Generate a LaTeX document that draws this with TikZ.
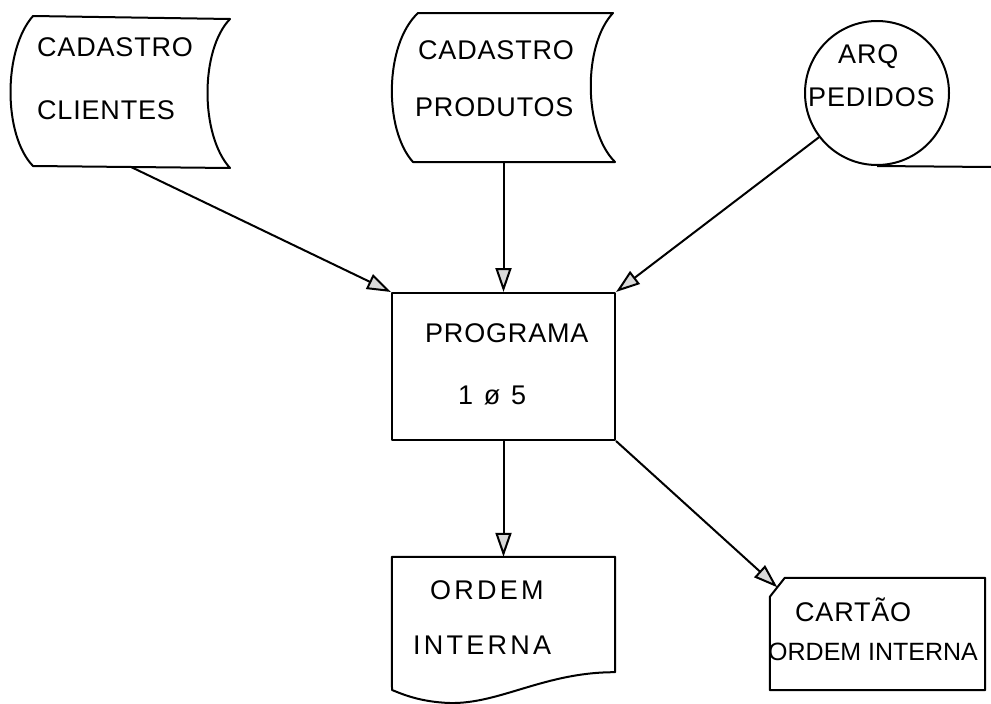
\documentclass[tikz,border=0pt]{standalone}
\usepackage{fontspec}
\usepackage{tikz}
\usetikzlibrary{arrows.meta, positioning, calc}
\newfontfamily\letterfont[LetterSpace=3]{Liberation Sans}
\newfontfamily\letterfontwide[LetterSpace=12]{Liberation Sans}
\newfontfamily\letterfonttight{Liberation Sans}
\tikzset{
  flowline/.style={line width=2pt, line join=round},
  flowarrow/.style={
    -{Triangle[length=24pt, width=16pt, fill=gray!30]},
    line width=2pt
  },
  hideanchor/.style={
    rectangle, draw=none, inner sep=0pt
  },
  flowlabel/.style={
    font=\letterfont\fontsize{27}{32}\selectfont,
    inner sep=0pt, anchor=west
  },
  flowlabelwide/.style={
    flowlabel, font=\letterfontwide\fontsize{27}{32}\selectfont
  },
  flowlabeltight/.style={
    flowlabel, font=\letterfonttight\fontsize{25}{30}\selectfont
  },
}
\begin{document}
\begin{tikzpicture}[x=1pt, y=-1pt]
  \useasboundingbox (0,0) rectangle (991,704);

  % Stored files
  \node[hideanchor, minimum width=197pt, minimum height=151pt] (cadcli) at (131.5,91.5) {};
  \draw[flowline] (33,16) -- (230,19) .. controls (200,50) and (200,135) .. (230,168)
    -- (33,166) .. controls (3,135) and (3,50) .. (33,16) -- cycle;
  \node[flowlabel] (cadclitop) at (37,47) {CADASTRO};
  \node[flowlabel] (cadclibot) at (37,110) {CLIENTES};

  \node[hideanchor, minimum width=202pt, minimum height=149pt] (cadprod) at (514,87.5) {};
  \draw[flowline] (418,13) -- (613,13) .. controls (583,45) and (583,130) .. (615,162)
    -- (413,162) .. controls (384,130) and (384,45) .. (418,13) -- cycle;
  \node[flowlabel] (cadprodtop) at (418,50) {CADASTRO};
  \node[flowlabel] (cadprodbot) at (415,107) {PRODUTOS};

  % Tape file
  \node[draw, circle, flowline, minimum size=144pt, inner sep=0pt] (arq) at (877,93) {};
  \coordinate (tapeend) at (991,167);
  \draw[flowline] (arq.south) -- (tapeend);
  \node[flowlabel] (arqtop) at (838,57) {ARQ};
  \node[flowlabel] (arqbot) at (808,97) {PEDIDOS};

  % Program
  \node[draw, flowline, minimum width=223pt, minimum height=147pt] (prog) at (503.5,366.5) {};
  \node[flowlabel] (progtop) at (425,333) {PROGRAMA};
  \node[flowlabelwide] (progbot) at (458,395) {1 ø 5};

  % Printed report
  \node[hideanchor, minimum width=223pt, minimum height=115pt] (ordem) at (503.5,614.5) {};
  \draw[flowline] (392,690) -- (ordem.north west) -- (ordem.north east) -- (ordem.south east)
    .. controls (545,672) and (500,704) .. (450,703)
    .. controls (420,702) and (402,694) .. (392,690) -- cycle;
  \node[flowlabelwide] (ordemtop) at (430,590) {ORDEM};
  \node[flowlabelwide] (ordembot) at (413,645) {INTERNA};

  % Punched card
  \node[hideanchor, minimum width=215pt, minimum height=112pt] (cartao) at (877.5,634) {};
  \draw[flowline] ([xshift=15pt]cartao.north west) -- (cartao.north east)
    -- (cartao.south east) -- (cartao.south west)
    -- ([yshift=-19pt]cartao.north west) -- cycle;
  \coordinate (cartcut) at ([xshift=7.5pt, yshift=-9.5pt]cartao.north west);
  \node[flowlabel] (cartaotop) at (795,610) {CARTÃO};
  \node[flowlabeltight] (cartaobot) at (768,652) {ORDEM INTERNA};

  % Flow
  \draw[flowarrow] (cadcli.south) -- (prog.north west);
  \draw[flowarrow] (cadprod.south -| prog.north) -- (prog.north);
  \draw[flowarrow] (arq) -- (prog.north east);
  \draw[flowarrow] (prog.south) -- (ordem.north);
  \draw[flowarrow] (prog.south east) -- (cartcut);
\end{tikzpicture}
\end{document}
